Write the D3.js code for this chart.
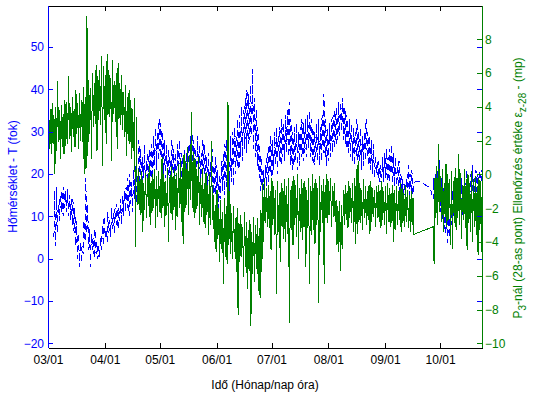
<!DOCTYPE html>
<html>
<head>
<meta charset="utf-8">
<style>
  body { margin: 0; background: #fff; }
  text { font-family: Arial, "Liberation Sans", sans-serif; font-size: 12px; }
</style>
</head>
<body>
<div id="chart"></div>
<script src="https://d3js.org/d3.v7.min.js"></script>
<script>
// daily values, day 0 = 03/01; null = no measurement
var greenHigh = [
  3.6, 3.9, 4.2, 3.5, 4.0, 5.5, 3.8, 4.1, 3.6, 4.4,
  4.3, 5.8, 4.0, 4.6, 3.9, 5.0, 4.2, 4.8, 4.4, 5.2,
  4.6, 9.4, 5.6, 5.1, 6.0, 5.4, 6.5, 5.8, 6.2, 7.0,
  6.4, 5.9, 7.1, 6.2, 5.7, 6.8, 5.5, 6.0, 6.6, 5.4,
  5.9, 4.9, 5.3, 4.6, 5.0, 4.4, 3.9, 4.5, 3.4, 0.3,
  -0.3, 0.2, -0.5, 0.1, -0.2, 0.6, -0.4, 0.0, 0.3, -0.1,
  0.2, -0.3, 1.0, 0.0, -0.4, 0.4, -0.2, 0.5, -0.1, 0.3,
  0.1, 0.6, 0.9, 0.4, 1.2, 0.8, 1.6, 1.1, 3.7, 1.3,
  0.9, 0.3, 1.0, -0.2, 0.4, -0.5, 0.1, -0.6, 0.0, 2.0,
  -1.2, -1.8, -0.9, -2.0, -1.5, -2.2, -1.4, -1.9, 4.3, -1.0,
  -2.3, -1.9, -2.6, -2.0, -2.9, -2.4, -3.1, -2.2, -2.8, -3.3,
  -2.7, -3.4, -2.5, -3.0, -2.6, -3.2, -2.1, -0.5, -0.3, -0.8,
  -0.6, -1.0, -0.2, -0.7, -0.9, -0.4, -1.1, -0.5, -0.8, -0.3,
  -0.7, -0.2, -0.9, -0.4, -0.1, -0.6, 0.0, -0.8, -0.3, -0.5,
  -0.4, -0.9, -0.2, -0.7, 0.0, -0.5, -0.3, -0.8, -0.1, -0.6,
  -0.3, -0.6, 0.0, -0.4, -0.2, -0.7, -0.5, -1.5, -1.9, -1.6,
  -1.8, -0.9, -0.6, -1.0, -0.4, -0.8, -0.5, -0.2, 0.3, 0.8,
  -0.5, -0.9, -0.3, -0.7, -1.0, -0.6, -0.4, -0.8, -0.9, -0.7,
  -0.6, -0.9, -0.4, -1.0, -0.7, -0.5, -0.8, -1.1, -0.6, -0.9,
  -0.7, -1.0, -0.5, -0.8, -1.1, -0.6, -0.9, -1.2, -1.0, -1.4,
  null, null, null, null, null, null, null, null, null, null,
  -3.1, -0.2, 0.5, 1.8, -0.1, 0.3, -0.5, 0.6, 0.0, -0.3,
  0.2, -0.4, 0.4, -0.2, 1.2, 0.1, -0.6, 0.3, -0.3, 0.0,
  -0.5, 0.2, -0.3, -0.1, -0.7, -0.2, -0.4
];
var greenLow = [
  1.5, 1.2, 1.8, 0.0, 1.4, 1.9, 0.9, 1.6, 1.2, 1.7,
  1.8, 2.1, 1.3, 2.2, 1.6, 2.4, 1.5, 2.0, 1.9, 0.0,
  0.3, 1.1, 2.4, 0.9, 2.8, 3.0, 1.4, 3.2, 2.9, 0.5,
  3.2, 1.8, 3.5, 3.4, 0.8, 3.6, 3.1, 1.5, 3.3, 2.9,
  2.6, 2.2, 1.1, 2.0, 1.8, 0.9, 1.4, -4.3, -1.8, -2.1,
  -2.4, -3.4, -2.1, -2.6, -1.9, -3.0, -2.3, -2.0, -3.2, -2.5,
  -2.2, -2.6, -2.0, -3.1, -2.4, -4.0, -2.3, -2.7, -2.1, -3.3,
  -2.5, -2.0, -2.8, -4.1, -2.2, -1.8, -2.4, -1.5, -2.0, -2.6,
  -2.3, -1.9, -3.0, -2.5, -2.8, -3.2, -2.4, -3.6, -3.0, -2.7,
  -4.0, -4.6, -3.8, -5.2, -4.4, -6.5, -4.9, -5.3, -4.2, -4.7,
  -5.0, -4.6, -5.8, -8.3, -5.2, -4.9, -6.1, -5.5, -6.8, -5.7,
  -9.0, -5.9, -6.4, -5.6, -6.9, -7.3, -5.8, -4.0, -2.9, -3.1,
  -3.2, -4.5, -3.0, -3.6, -7.1, -3.4, -5.2, -3.1, -3.8, -4.0,
  -3.5, -8.8, -3.3, -4.2, -3.0, -3.7, -5.0, -3.4, -3.9, -3.1,
  -5.5, -3.2, -6.5, -3.6, -3.3, -4.1, -3.0, -7.6, -3.4, -2.9,
  -6.5, -2.6, -2.9, -2.4, -3.1, -2.5, -2.8, -4.2, -4.6, -5.7,
  -4.4, -3.0, -2.7, -3.2, -2.6, -2.9, -3.4, -4.1, -3.5, -2.8,
  -2.9, -3.3, -2.6, -3.0, -2.7, -3.5, -2.8, -2.5, -3.1, -2.6,
  -2.8, -3.2, -2.7, -3.0, -3.5, -2.8, -3.1, -2.9, -4.0, -3.3,
  -3.0, -2.7, -3.4, -2.9, -3.1, -2.8, -3.2, -3.4, -3.0, -3.55,
  null, null, null, null, null, null, null, null, null, null,
  -5.3, -2.6, -3.0, -2.2, -2.8, -3.4, -2.5, -3.1, -2.7, -4.2,
  -4.4, -2.9, -3.3, -2.6, -3.0, -3.8, -2.7, -3.2, -4.5, -2.9,
  -3.4, -4.0, -3.1, -3.6, -4.8, -3.3, -4.6
];
var tempMin = [
  null, null, null, 5, 3, 6, 9, 11, 10, 12,
  11, 10, 9, 8, 6, 3, 0, -2, -1, 1,
  4, 6, 2, -2, 2, 0, 1, 0, 0, 2,
  3, 5, 4, 6, 5, 7, 6, 8, 7, 9,
  8, 10, 11, 12, 10, 13, 11, 14, 13, 15,
  16, 17, 19, 16, 18, 17, 19, 20, 22, 21,
  23, 24, 22, 20, 19, 18, 17, 19, 20, 18,
  17, 19, 20, 18, 19, 17, 18, 20, 21, 19,
  18, 20, 19, 17, 18, 20, 17, 16, 15, 17,
  14, 15, 13, 12, 14, 16, 15, 17, 18, 16,
  18, 17, 20, 22, 21, 24, 23, 26, 25, 27,
  28, 29, 26, 24, 22, 19, 16, 14, 15, 17,
  18, 20, 19, 21, 22, 20, 23, 22, 24, 23,
  25, 24, 22, 21, 22, 23, 21, 22, 24, 23,
  25, 24, 26, 24, 23, 22, 24, 23, 22, 23,
  25, 24, 22, 23, 24, 25, 26, 27, 28, 29,
  30, 28, 27, 26, 25, 24, 23, 22, 24, 22,
  23, 21, 22, 23, 24, 22, 21, 20, 19, 20,
  19, 18, 19, 18, 19, 17, 18, 20, 18, 17,
  16, 17, 15, 16, 14, 15, 14, 15, 16, 15,
  null, null, 18.3, null, null, null, null, null, 16.8, null,
  14, 12, 13, 15, 11, 9, 7, 6, 3.8, 5,
  8, 10, 12, 11, 13, 12, 10, 11, 13, 12,
  14, 13, 12, 14, 15, 16, 17
];
var tempMax = [
  null, null, null, 16, 17, 13, 15, 16, 17, 16,
  16.5, 15, 14, 14, 12, 9, 6, 4, 3, 9,
  19, 13, 7, 6, 5, 7, 4, 3, 5, 8,
  10, 7, 11, 9, 12, 11, 12, 13, 12, 14,
  15, 16, 17, 19, 20, 18, 21, 22, 20, 28,
  26, 24, 27, 23, 25, 26, 27, 29, 31, 30,
  33, 32, 30, 28, 27, 26, 24, 28, 26, 25,
  27, 28, 25, 24, 26, 25, 27, 29, 30, 28,
  26, 29, 27, 25, 28, 27, 24, 25, 23, 26,
  22, 24, 21, 20, 23, 25, 27, 28, 26, 29,
  30, 31, 29, 33, 34, 36, 35, 38, 40, 39,
  41, 44.7, 38, 35, 31, 27, 24, 21, 22, 25,
  27, 29, 28, 30, 31, 29, 31, 33, 32, 34,
  35, 37, 33, 30, 31, 32, 30, 31, 33, 32,
  33, 34, 35, 33, 31, 30, 32, 33, 31, 34,
  39, 33, 31, 32, 33, 34, 35, 36, 37, 37,
  38, 36, 35, 33, 33, 32, 31, 30, 33, 30,
  31, 29, 30, 33, 30, 29, 28, 27, 24, 23,
  23, 22, 24, 25, 26, 24, 26, 27, 25, 24,
  22, 23, 20, 19, 18, 19, 22, 20, 21, 18,
  null, null, 18.3, null, null, null, null, null, 16.8, null,
  19, 20, 21, 23.4, 19, 17, 15, 14, 12, 13,
  16, 18, 19, 17, 20, 19, 17, 18, 21, 19,
  20, 22, 19, 21, 20, 21, 21
];
var monthTicks = ["2007-03-01", "2007-04-01", "2007-05-01", "2007-06-01",
                  "2007-07-01", "2007-08-01", "2007-09-01", "2007-10-01"];
var leftTicks = [-20, -10, 0, 10, 20, 30, 40, 50];
var rightTicks = [-10, -8, -6, -4, -2, 0, 2, 4, 6, 8];

var width = 535, height = 394;
var L = 48, R = 482, T = 5.5, B = 347.5;
var blue = "#0000ff", green = "#008000";

var start = Date.UTC(2007, 2, 1);
function dayDate(d) { return new Date(start + d * 864e5); }

var x = d3.scaleUtc().domain([dayDate(0), dayDate(236.9)]).range([L, R]);
var yT = d3.scaleLinear().domain([-21, 59.8]).range([B, T]);
var yE = d3.scaleLinear().domain([-10.25, 10]).range([B, T]);

var svg = d3.select("#chart").append("svg")
  .attr("width", width)
  .attr("height", height);

svg.append("clipPath").attr("id", "plot")
  .append("rect").attr("x", L).attr("y", T).attr("width", R - L).attr("height", B - T);

// build point lists (temperature: min in the morning, max in the afternoon)
var tempPts = [];
tempMin.forEach(function(v, i) {
  if (v == null) return;
  tempPts.push({t: i + 0.25, v: v});
  tempPts.push({t: i + 0.6, v: tempMax[i]});
});
var greenPts = [];
greenHigh.forEach(function(v, i) {
  if (v == null) return;
  greenPts.push({t: i + 0.25, v: v});
  greenPts.push({t: i + 0.75, v: greenLow[i]});
});

var plot = svg.append("g").attr("clip-path", "url(#plot)");

plot.append("path")
  .datum(tempPts)
  .attr("fill", "none")
  .attr("stroke", blue)
  .attr("stroke-width", 1)
  .attr("stroke-dasharray", "6,4")
  .attr("shape-rendering", "crispEdges")
  .attr("d", d3.line().x(function(d) { return x(dayDate(d.t)); }).y(function(d) { return yT(d.v); }));

plot.append("path")
  .datum(greenPts)
  .attr("fill", "none")
  .attr("stroke", green)
  .attr("stroke-width", 1)
  .attr("shape-rendering", "crispEdges")
  .attr("d", d3.line().x(function(d) { return x(dayDate(d.t)); }).y(function(d) { return yE(d.v); }));

// axes
var tickDates = monthTicks.map(function(s) { return d3.utcParse("%Y-%m-%d")(s); });

var xb = svg.append("g").attr("transform", "translate(0," + B + ")")
  .call(d3.axisBottom(x).tickValues(tickDates).tickFormat(d3.utcFormat("%m/%d"))
    .tickSize(-5).tickSizeOuter(0).tickPadding(8));
var xt = svg.append("g").attr("transform", "translate(0," + T + ")")
  .call(d3.axisTop(x).tickValues(tickDates).tickFormat("")
    .tickSize(-5).tickSizeOuter(0));

var yl = svg.append("g").attr("transform", "translate(" + L + ",0)")
  .call(d3.axisLeft(yT).tickValues(leftTicks).tickSize(-5).tickSizeOuter(0).tickPadding(4));
var ylr = svg.append("g").attr("transform", "translate(" + R + ",0)")
  .call(d3.axisRight(yT).tickValues(leftTicks).tickFormat("").tickSize(-5).tickSizeOuter(0));
var yr = svg.append("g").attr("transform", "translate(" + R + ",0)")
  .call(d3.axisRight(yE).tickValues(rightTicks).tickSize(-5).tickSizeOuter(0).tickPadding(3));

svg.selectAll(".tick text").attr("font-size", 12).attr("font-family", "Arial, 'Liberation Sans', sans-serif");
svg.selectAll(".domain, .tick line").attr("shape-rendering", "crispEdges");

[xb, xt].forEach(function(g) {
  g.selectAll(".domain, .tick line").attr("stroke", "#000");
  g.selectAll("text").attr("fill", "#000");
});
[yl, ylr].forEach(function(g) {
  g.selectAll(".domain, .tick line").attr("stroke", blue);
  g.selectAll("text").attr("fill", blue);
});
ylr.select(".domain").remove();
yr.selectAll(".domain, .tick line").attr("stroke", green);
yr.selectAll("text").attr("fill", green);

// axis titles
svg.append("text")
  .attr("x", (L + R) / 2).attr("y", 389)
  .attr("text-anchor", "middle")
  .attr("fill", "#000")
  .text("Idő (Hónap/nap óra)");

svg.append("text")
  .attr("transform", "translate(17," + ((T + B) / 2) + ") rotate(-90)")
  .attr("text-anchor", "middle")
  .attr("fill", blue)
  .text("Hőmérséklet - T (fok)");

var rl = svg.append("text")
  .attr("transform", "translate(522,188) rotate(-90)")
  .attr("text-anchor", "middle")
  .attr("fill", green);
rl.append("tspan").text("P");
rl.append("tspan").attr("dy", 4).attr("font-size", 10).text("3");
rl.append("tspan").attr("dy", -4).text("-nál (28-as pont) Ellenőrzés értéke ε");
rl.append("tspan").attr("dy", 4).attr("font-size", 10).text("z-28");
rl.append("tspan").attr("dy", -4).text(" - (mp)");
</script>
</body>
</html>
